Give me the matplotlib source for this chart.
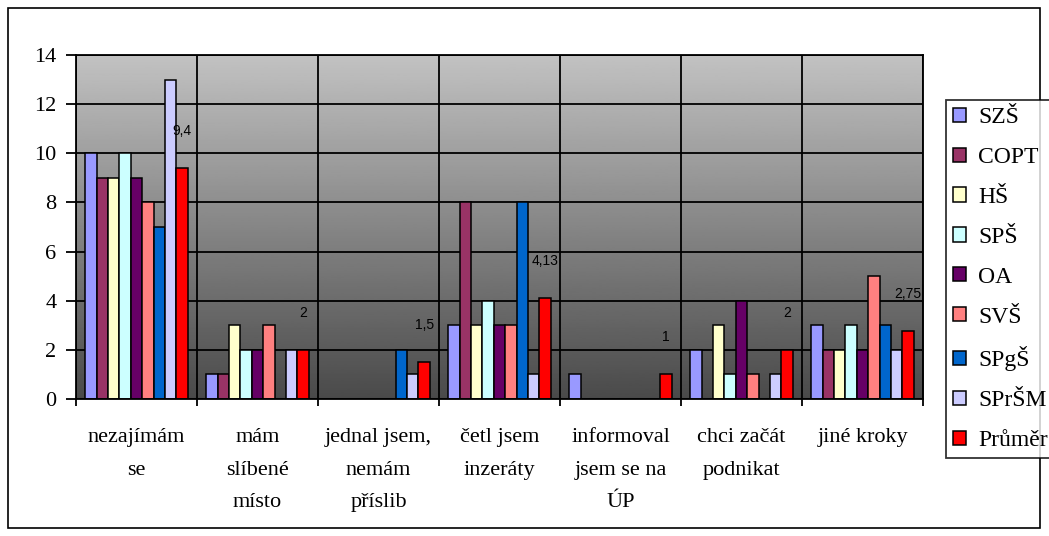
import matplotlib
matplotlib.use("Agg")
import matplotlib.pyplot as plt
import numpy as np
from matplotlib.patches import Rectangle

categories = ["nezajímám\nse", "mám\nslíbené\nmísto", "jednal jsem,\nnemám\npříslib",
              "četl jsem\ninzeráty", "informoval\njsem se na\nÚP", "chci začát\npodnikat",
              "jiné kroky"]
series_names = ["SZŠ", "COPT", "HŠ", "SPŠ", "OA", "SVŠ", "SPgŠ", "SPrŠM", "Průměr"]
szs = [10, 1, 0, 3, 1, 2, 3]
copt = [9, 1, 0, 8, 0, 0, 2]
hs = [9, 3, 0, 3, 0, 3, 2]
sps = [10, 2, 0, 4, 0, 1, 3]
oa = [9, 2, 0, 3, 0, 4, 2]
svs = [8, 3, 0, 3, 0, 1, 5]
spgs = [7, 0, 2, 8, 0, 0, 3]
sprsm = [13, 2, 1, 1, 0, 1, 2]
prumer = [9.4, 2, 1.5, 4.13, 1, 2, 2.75]
series = [szs, copt, hs, sps, oa, svs, spgs, sprsm, prumer]
colors = ["#9999FF", "#993366", "#FFFFCC", "#CCFFFF", "#660066", "#FF8080",
          "#0066CC", "#CCCCFF", "#FF0000"]
yticks = [0, 2, 4, 6, 8, 10, 12, 14]

W, H = 1049, 536
fig = plt.figure(figsize=(W / 100, H / 100), dpi=100)
fig.patch.set_facecolor("white")

# outer border
fig.add_artist(Rectangle((8 / W, 8 / H), (W - 9 - 8) / W, (H - 16) / H,
                         transform=fig.transFigure, fill=False,
                         edgecolor="black", linewidth=1.2))

L, R, T, B = 76, 923, 55, 399
ax = fig.add_axes([L / W, (H - B) / H, (R - L) / W, (B - T) / H])

n = len(categories)
x = np.arange(n)
ax.set_xlim(-0.5, n - 0.5)
ax.set_ylim(0, 14)

# gradient background
grad = np.linspace(0.29, 0.76, 256).reshape(-1, 1)
ax.imshow(grad, extent=[-0.5, n - 0.5, 0, 14], origin="lower", aspect="auto",
          cmap="gray", vmin=0, vmax=1, zorder=0)

# grid
for yv in yticks:
    ax.axhline(yv, color="black", linewidth=1.3, zorder=1)
for xv in np.arange(-0.5, n, 1.0):
    ax.axvline(xv, color="black", linewidth=1.3, zorder=1)

nb = len(series)
bw = 0.85 / nb
handles = []
for j, (vals, c, name) in enumerate(zip(series, colors, series_names)):
    bars = ax.bar(x + (j - (nb - 1) / 2) * bw, vals, width=bw, color=c,
                  edgecolor="black", linewidth=1.1, zorder=2, label=name)
    handles.append(bars)

# value labels for average
j_avg = nb - 1
for i, v in enumerate(prumer):
    txt = f"{v:g}".replace(".", ",")
    ax.annotate(txt, (x[i] + (j_avg - (nb - 1) / 2) * bw, v), xytext=(0, 37),
                textcoords="offset pixels", ha="center", va="center",
                fontsize=10, family="Liberation Sans", color="black", zorder=3)

ax.set_yticks(yticks)
ax.set_yticklabels([str(v) for v in yticks], fontsize=16, family="Liberation Serif")
ax.tick_params(axis="y", direction="out", length=7, width=1.3, pad=7, colors="black")

ax.set_xticks(np.arange(-0.5, n, 1.0))
ax.set_xticklabels([])
ax.tick_params(axis="x", which="major", direction="out", length=5, width=1.3)
ax.set_xticks(x, minor=True)
ax.set_xticklabels(categories, minor=True, fontsize=16, family="Liberation Serif",
                   linespacing=1.97, va="top")
ax.tick_params(axis="x", which="minor", length=0, pad=21)

for s in ax.spines.values():
    s.set_color("black")
    s.set_linewidth(1.3)
    s.set_zorder(4)

leg = fig.legend(handles=handles, labels=series_names, loc="upper left",
                 bbox_to_anchor=(946 / W, 1 - 100 / H), borderaxespad=0,
                 frameon=True, fancybox=False, edgecolor="black",
                 prop={"family": "Liberation Serif", "size": 17},
                 handlelength=0.55, handleheight=0.55, handletextpad=0.5,
                 labelspacing=0.8, borderpad=0.3)
leg.get_frame().set_linewidth(1.3)

fig.savefig("out.png", dpi=100)
